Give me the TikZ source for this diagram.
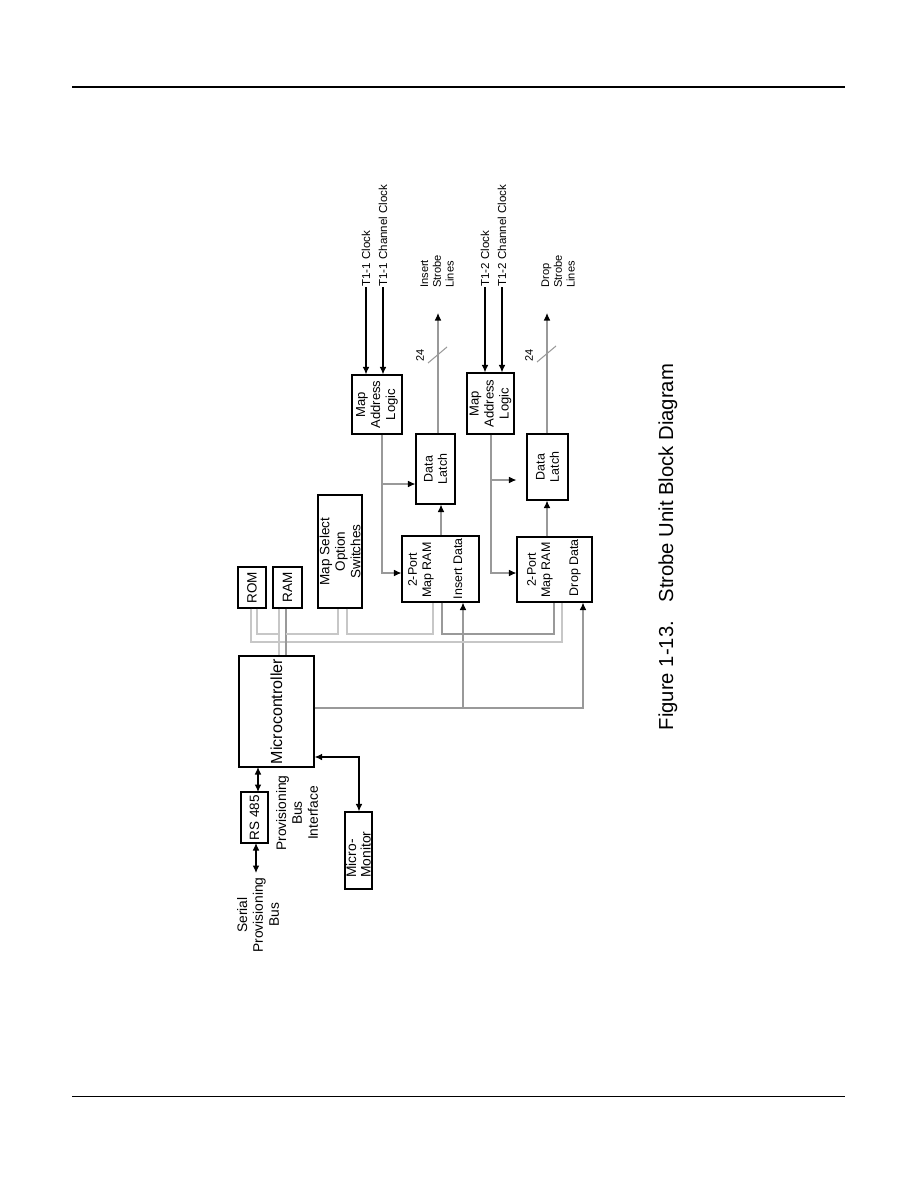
\documentclass[tikz,border=0pt]{standalone}
\usepackage{fontspec}
\setmainfont{Liberation Sans}
\usetikzlibrary{arrows.meta,fit}
\newcommand{\fsz}[1]{\fontsize{#1}{1.15\dimexpr #1pt\relax}\selectfont}
\begin{document}
\begin{tikzpicture}[x=0.6667pt,y=-0.6667pt,
  blk/.style={draw, line width=0.8pt, inner sep=0pt},
  lbl/.style={rotate=90, align=center, inner sep=0pt},
  bus/.style={draw=black!22, line width=0.7pt},
  sig/.style={draw=black!40, line width=0.7pt},
  tip/.style={-{Latex[length=5pt,width=4.5pt,black]}},
  dtip/.style={{Latex[length=5pt,width=4.5pt]}-{Latex[length=5pt,width=4.5pt]}},
  bl/.style={line width=0.8pt}]
\useasboundingbox (0,0) rectangle (918,1188);
% page rules
\coordinate (hr1) at (72,87); \coordinate (hr2) at (845,87);
\draw[line width=1.8pt] (hr1) -- (hr2);
\coordinate (fr1) at (72,1096); \coordinate (fr2) at (845,1096);
\draw[line width=0.6pt] (fr1) -- (fr2);

% boxes
\node[blk, fit={(239,656) (314,767)}] (mc) {};
\node[blk, fit={(241,792) (268,843)}] (rs) {};
\node[blk, fit={(345,812) (372,889)}] (mm) {};
\node[blk, fit={(238,567) (266,608)}] (rom) {};
\node[blk, fit={(273,567) (302,608)}] (ram) {};
\node[blk, fit={(318,495) (362,608)}] (sw) {};
\node[blk, fit={(352,375) (402,434)}] (mal1) {};
\node[blk, fit={(416,434) (455,504)}] (dl1) {};
\node[blk, fit={(402,536) (479,602)}] (pr1) {};
\node[blk, fit={(467,373) (514,434)}] (mal2) {};
\node[blk, fit={(527,434) (568,500)}] (dl2) {};
\node[blk, fit={(517,537) (592,602)}] (pr2) {};

% box texts
\node[lbl, font=\fontsize{9.2}{9.6}\selectfont, align=left, anchor=west] (tmm) at (358.5,878) {Micro-\\Monitor};
\node[lbl, font=\fsz{10.7}] (tmc) at (mc.center) {Microcontroller};
\node[lbl, font=\fsz{9}] (trs) at (rs.center) {RS 485};
\node[lbl, font=\fsz{9}] (trom) at (rom.center) {ROM};
\node[lbl, font=\fsz{9}] (tram) at (ram.center) {RAM};
\node[lbl, font=\fsz{9}] (tsw) at (sw.center) {Map Select\\Option\\Switches};
\node[lbl, font=\fsz{8.7}] (tmal1) at (mal1.center) {Map\\Address\\Logic};
\node[lbl, font=\fsz{8.7}] (tmal2) at (mal2.center) {Map\\Address\\Logic};
\node[lbl, font=\fsz{8.3}] (tdl1) at (dl1.center) {Data\\Latch};
\node[lbl, font=\fsz{8.3}] (tdl2) at (dl2.center) {Data\\Latch};
\node[lbl, font=\fsz{8.3}] (tpr1) at (421,570) {2-Port\\Map RAM};
\node[lbl, font=\fsz{8.3}, anchor=east] (tid1) at (458,538) {Insert Data};
\node[lbl, font=\fsz{8.3}] (tpr2) at (540,570) {2-Port\\Map RAM};
\node[lbl, font=\fsz{8.3}, anchor=east] (tdd2) at (575,539) {Drop Data};

% outside labels
\node[lbl, font=\fsz{9.2}, anchor=east] (tspb) at (258,877) {Serial\\Provisioning\\Bus};
\node[lbl, font=\fsz{9.2}] (tpbi) at (297,813) {Provisioning\\Bus\\Interface};
\node[lbl, font=\fsz{7.7}, anchor=west] (tc11) at (366,287) {T1-1 Clock};
\node[lbl, font=\fsz{7.7}, anchor=west] (tcc11) at (383,287) {T1-1 Channel Clock};
\node[lbl, font=\fsz{7.7}, anchor=west] (tc12) at (485,287) {T1-2 Clock};
\node[lbl, font=\fsz{7.7}, anchor=west] (tcc12) at (502,287) {T1-2 Channel Clock};
\node[lbl, font=\fsz{7.4}, align=left, anchor=west] (tisl) at (437,288) {Insert\\Strobe\\Lines};
\node[lbl, font=\fsz{7.4}, align=left, anchor=west] (tdsl) at (558,288) {Drop\\Strobe\\Lines};
\node[lbl, font=\fsz{7.3}] (n24a) at (420,355) {24};
\node[lbl, font=\fsz{7.3}] (n24b) at (529,355) {24};
\node[lbl, font=\fsz{13.5}] (cap) at (668,547) {Figure 1-13.\hspace{0.55em} Strobe Unit Block Diagram};

% black connectors
\draw[bl, dtip] (258,767) -- (258,792);
\coordinate (spb) at (256,873);
\draw[bl, dtip] (256,843) -- (spb);
\coordinate (mmc) at (359,757);
\draw[bl, dtip] (mc.east |- mmc) -- (mmc) -- (mm.north -| mmc);
\draw[bl, tip] (tc11.west) -- (tc11.west |- mal1.north);
\draw[bl, tip] (tcc11.west) -- (tcc11.west |- mal1.north);
\draw[bl, tip] (tc12.west) -- (tc12.west |- mal2.north);
\draw[bl, tip] (tcc12.west) -- (tcc12.west |- mal2.north);

% strobe outputs
\coordinate (iso) at (438,313);
\coordinate (dso) at (547,313);
\draw[sig, tip] (dl1.north -| iso) -- (iso);
\draw[sig, tip] (dl2.north -| dso) -- (dso);
\coordinate (s1a) at (428,363); \coordinate (s1b) at (447,347);
\coordinate (s2a) at (537,362); \coordinate (s2b) at (556,346);
\draw[sig] (s1a) -- (s1b);
\draw[sig] (s2a) -- (s2b);

% map address logic -> ram / latch
\coordinate (a1) at (382,573); \coordinate (b1) at (382,484);
\draw[sig, tip] (mal1.south -| a1) -- (a1) -- (pr1.west |- a1);
\draw[sig, tip] (b1) -- (dl1.west |- b1);
\coordinate (a2) at (491,573); \coordinate (b2) at (491,480);
\draw[sig, tip] (mal2.south -| a2) -- (a2) -- (pr2.west |- a2);
\draw[sig, tip, shorten >=10pt*0.6667] (b2) -- (dl2.west |- b2);

% ram -> latch
\draw[sig, tip] (pr1.north -| 441,0) -- (dl1.south -| 441,0);
\draw[sig, tip] (pr2.north -| 547,0) -- (dl2.south -| 547,0);

% microcontroller -> insert/drop data
\coordinate (md) at (583,708); \coordinate (mi) at (463,708);
\draw[sig, tip] (mc.east |- md) -- (md) -- (pr2.south -| md);
\draw[sig, tip] (mi) -- (pr1.south -| mi);

% buses
\draw[bus] (rom.south -| 251,0) -- (251,642) -- (562,642) -- (pr2.south -| 562,0);
\draw[bus] (rom.south -| 257,0) -- (257,634) -- (279,634);
\draw[bus] (ram.south -| 279,0) -- (mc.north -| 279,0);
\draw[sig] (ram.south -| 286,0) -- (mc.north -| 286,0);
\draw[bus] (286,634) -- (338,634) -- (sw.south -| 338,0);
\draw[bus] (sw.south -| 347,0) -- (347,634) -- (433,634) -- (pr1.south -| 433,0);
\draw[sig] (pr1.south -| 442,0) -- (442,634) -- (554,634) -- (pr2.south -| 554,0);
\end{tikzpicture}
\end{document}
